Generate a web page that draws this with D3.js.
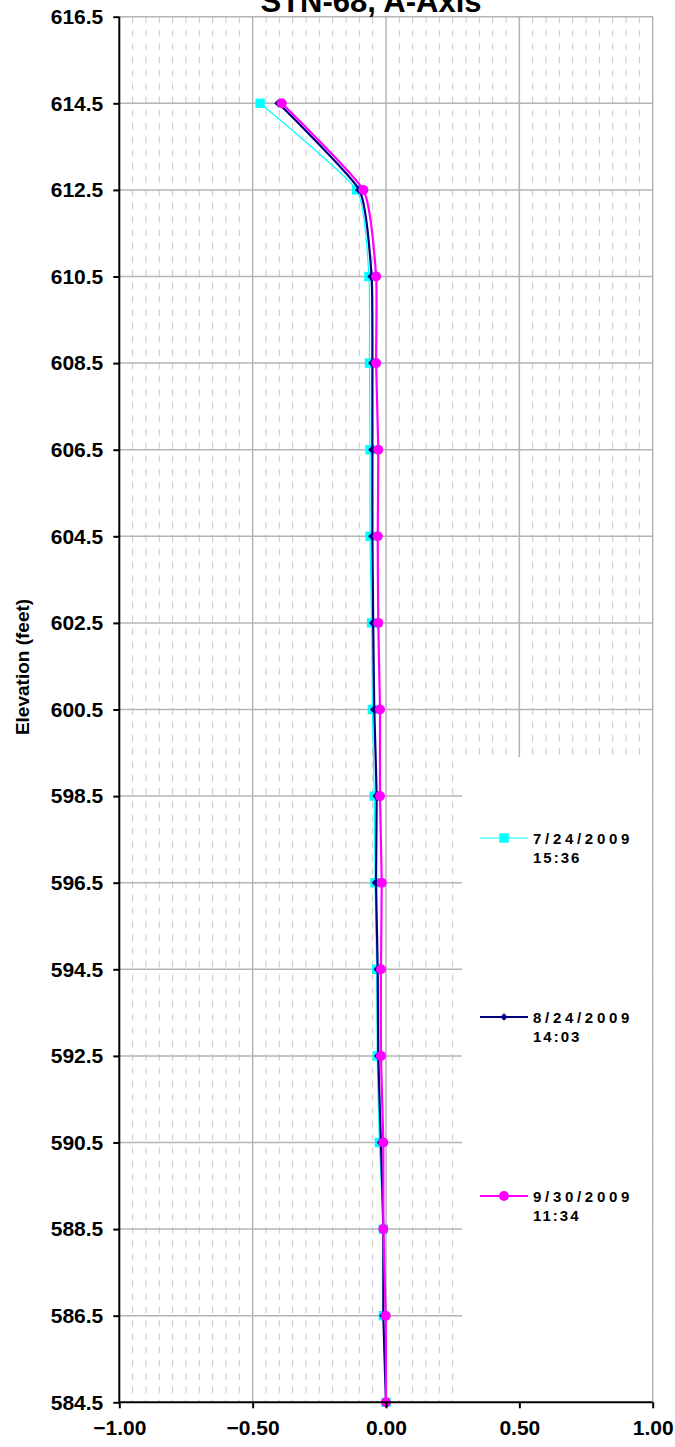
<!DOCTYPE html>
<html><head><meta charset="utf-8">
<script src="https://cdn.jsdelivr.net/npm/d3@7"></script>
<style>html,body{margin:0;padding:0;background:#fff;}svg{display:block;}</style>
</head><body>
<script>
const elevations = [614.5,612.5,610.5,608.5,606.5,604.5,602.5,600.5,598.5,596.5,594.5,592.5,590.5,588.5,586.5,584.5];
const seriesNames = [["7/24/2009","15:36"],["8/24/2009","14:03"],["9/30/2009","11:34"]];
const s1 = [-0.472,-0.110,-0.064,-0.062,-0.060,-0.060,-0.054,-0.051,-0.044,-0.041,-0.035,-0.033,-0.025,-0.010,-0.010,0.000];
const s2 = [-0.403,-0.100,-0.054,-0.051,-0.051,-0.051,-0.048,-0.044,-0.035,-0.0375,-0.031,-0.029,-0.019,-0.010,-0.010,0.000];
const s3 = [-0.391,-0.085,-0.037,-0.037,-0.029,-0.031,-0.029,-0.0225,-0.0225,-0.016,-0.019,-0.019,-0.010,-0.010,-0.001,0.000];
const yTicks = d3.range(616.5, 584.4, -2);
const xTicks = [-1.0,-0.5,0.0,0.5,1.0];
const title = "STN-68, A-Axis";
const yTitle = "Elevation (feet)";

const W = 675, H = 1447;
const pL = 119.3, pR = 652.7, pT = 16.7, pB = 1402.3;
const x = d3.scaleLinear().domain([-1,1]).range([pL,pR]);
const y = d3.scaleLinear().domain([584.5,616.5]).range([pB,pT]);
const font = "'Liberation Sans', Arial, sans-serif";

const svg = d3.select("body").append("svg").attr("width",W).attr("height",H);

// minor dashed vertical gridlines
const minor = d3.range(-0.95, 1.0, 0.05).filter(v => Math.abs(Math.round(v*2) - v*2) > 1e-6);
svg.append("g").selectAll("line").data(minor).join("line")
  .attr("x1",d=>x(d)).attr("x2",d=>x(d)).attr("y1",pT).attr("y2",pB)
  .attr("stroke","#c8c8c8").attr("stroke-width",1).attr("stroke-dasharray","6.6,6.7");
// major gridlines
svg.append("g").selectAll("line").data(xTicks.slice(1)).join("line")
  .attr("x1",d=>x(d)).attr("x2",d=>x(d)).attr("y1",pT).attr("y2",pB)
  .attr("stroke","#b4b4b4").attr("stroke-width",1.5);
svg.append("g").selectAll("line").data(yTicks.slice(0,-1)).join("line")
  .attr("x1",pL).attr("x2",pR).attr("y1",d=>y(d)).attr("y2",d=>y(d))
  .attr("stroke","#b4b4b4").attr("stroke-width",1.5);

// legend box background
const lg = svg.append("g");
lg.append("rect").attr("x",462).attr("y",757).attr("width",pR-462-1).attr("height",pB-757-1).attr("fill","#fff");

// series
const series = [
  {vals:s1, color:"#00ffff", width:1.2, marker:"square"},
  {vals:s2, color:"#000080", width:2.2, marker:"diamond"},
  {vals:s3, color:"#ff00ff", width:2.2, marker:"circle"}
];
const line = d3.line().x(d=>x(d[0])).y(d=>y(d[1])).curve(d3.curveCardinal.tension(0.5));
function marker(g, type, color, cx, cy, scale){
  if(type==="square") g.append("rect").attr("x",cx-4.7*scale).attr("y",cy-4.7*scale).attr("width",9.4*scale).attr("height",9.4*scale).attr("fill",color);
  else if(type==="diamond") g.append("path").attr("d",`M${cx},${cy-4.3*scale}L${cx+4.3*scale},${cy}L${cx},${cy+4.3*scale}L${cx-4.3*scale},${cy}Z`).attr("fill",color);
  else g.append("circle").attr("cx",cx).attr("cy",cy).attr("r",5*scale).attr("fill",color);
}
series.forEach(s=>{
  const pts = s.vals.map((v,i)=>[v,elevations[i]]);
  svg.append("path").attr("d",line(pts)).attr("fill","none").attr("stroke",s.color).attr("stroke-width",s.width);
  const g = svg.append("g");
  pts.forEach(p=>marker(g,s.marker,s.color,x(p[0]),y(p[1]),1));
});

// axes
const yAxis = d3.axisLeft(y).tickValues(yTicks).tickFormat(d3.format(".1f")).tickSize(6).tickPadding(10);
const gy = svg.append("g").attr("transform",`translate(${pL},0)`).call(yAxis);
gy.select(".domain").attr("stroke","#000").attr("stroke-width",2).attr("d",`M0,${pT}V${pB}`);
gy.selectAll(".tick line").attr("stroke","#000").attr("stroke-width",2);
gy.selectAll("text").attr("font-family",font).attr("font-weight","bold").attr("font-size",21).attr("fill","#000");

const xAxis = d3.axisBottom(x).tickValues(xTicks).tickFormat(d3.format(".2f")).tickSize(6).tickPadding(12);
const gx = svg.append("g").attr("transform",`translate(0,${pB})`).call(xAxis);
gx.select(".domain").attr("stroke","#000").attr("stroke-width",2).attr("d",`M${pL},0H${pR}`);
gx.selectAll(".tick line").attr("stroke","#000").attr("stroke-width",2);
gx.selectAll("text").attr("font-family",font).attr("font-weight","bold").attr("font-size",21).attr("fill","#000");

// titles
svg.append("text").attr("x",371).attr("y",12).attr("text-anchor","middle")
  .attr("font-family",font).attr("font-weight","bold").attr("font-size",31).text(title);
svg.append("text").attr("transform",`translate(29,667) rotate(-90)`).attr("text-anchor","middle")
  .attr("font-family",font).attr("font-weight","bold").attr("font-size",19).text(yTitle);

// legend entries
const legY = [838, 1017, 1196];
series.forEach((s,i)=>{
  const g = lg.append("g");
  g.append("line").attr("x1",480).attr("x2",528).attr("y1",legY[i]).attr("y2",legY[i]).attr("stroke",s.color).attr("stroke-width",s.width);
  marker(g,s.marker,s.color,504,legY[i],s.marker==="diamond"?0.85:1);
  const t = g.append("text").attr("font-family",font).attr("font-weight","bold").attr("font-size",15).attr("letter-spacing","3.7px");
  t.append("tspan").attr("x",533).attr("y",legY[i]+5.5).text(seriesNames[i][0]);
  t.append("tspan").attr("x",533).attr("y",legY[i]+24.5).attr("letter-spacing","2px").text(seriesNames[i][1]);
});
</script>
</body></html>
